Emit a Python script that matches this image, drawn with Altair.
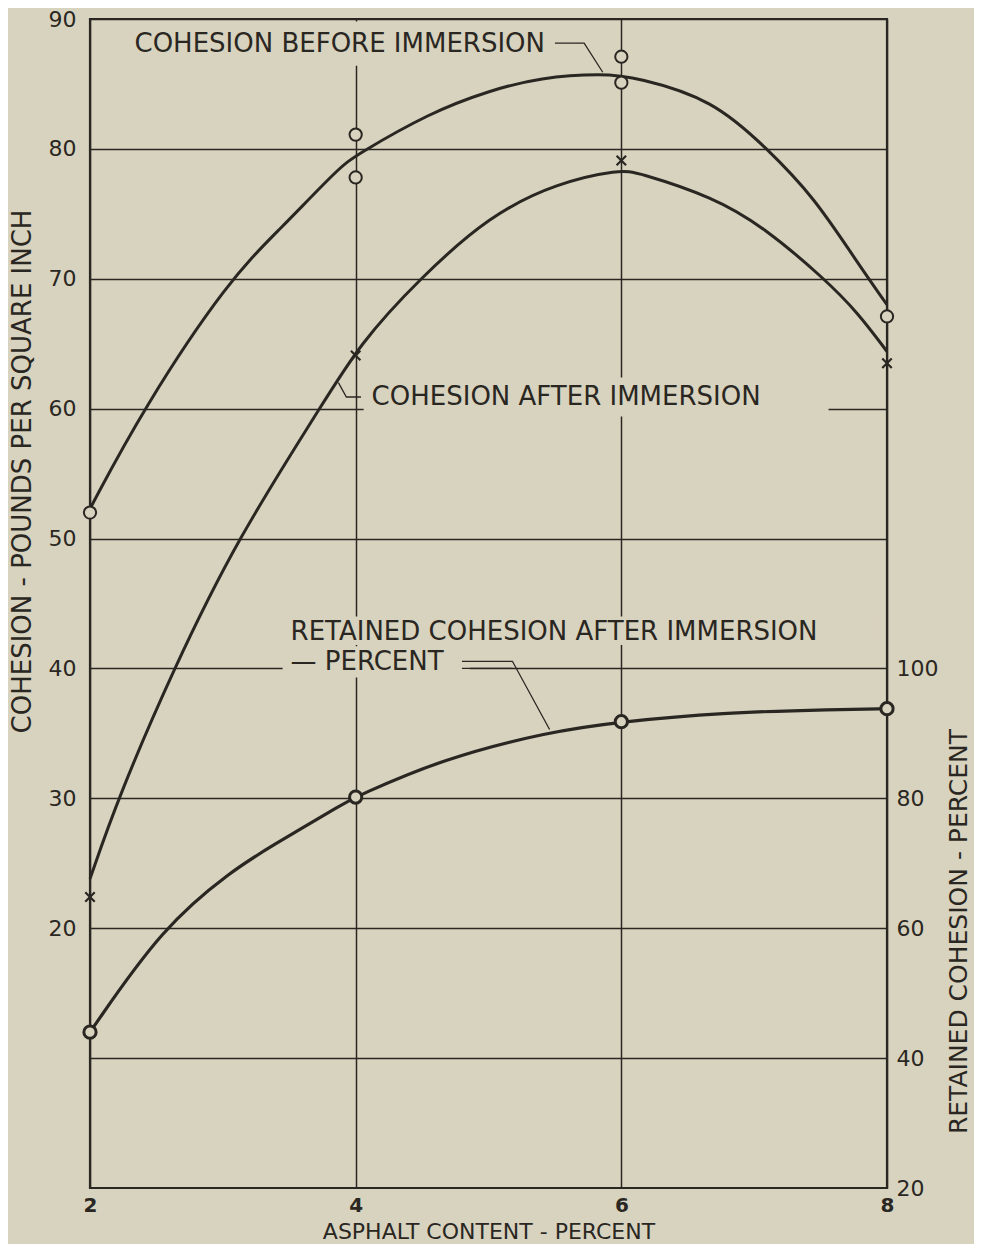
import altair as alt
import pandas as pd

BG = "#d8d3bf"
INK = "#2a2722"
FONT = "DejaVu Sans"

# ---- measured points ----
before_x = [2, 4, 4, 6, 6, 8]
before_y = [52.0, 81.1, 77.8, 87.1, 85.1, 67.1]
after_x = [2, 4, 6, 8]
after_y = [22.4, 64.1, 79.1, 63.5]
ret_x = [2, 4, 6, 8]
ret_y = [44.0, 80.2, 91.8, 93.8]

# ---- curves ----
bc_x = [2.0, 2.4, 3.05, 3.43, 3.88, 4.0, 4.56, 5.01, 5.39, 5.86, 6.12, 6.69, 7.1, 7.45, 7.78, 8.0]
bc_y = [52.3, 60.0, 70.0, 73.8, 78.6, 79.5, 82.8, 84.5, 85.5, 85.8, 85.5, 83.8, 80.0, 76.3, 71.2, 68.0]
ac_x = [2.0, 2.21, 2.63, 3.11, 3.73, 4.03, 4.48, 5.01, 5.52, 5.99, 6.12, 6.69, 7.07, 7.53, 7.78, 8.0]
ac_y = [23.8, 30.0, 40.0, 50.0, 60.0, 65.0, 70.0, 74.9, 77.4, 78.4, 78.2, 76.3, 74.0, 70.0, 67.4, 64.4]
rc_x = [2.0, 2.55, 3.08, 3.33, 3.94, 4.0, 4.64, 5.46, 6.0, 6.74, 7.63, 8.0]
rc_y = [44.0, 60.3, 69.0, 72.2, 79.6, 80.2, 86.0, 90.3, 91.8, 93.2, 93.7, 93.8]

# ---- axis ticks ----
x_ticks = [2, 4, 6, 8]
left_ticks = [10, 20, 30, 40, 50, 60, 70, 80, 90]
right_ticks = [20, 40, 60, 80, 100]

# ---- annotations (in left-axis units) ----
labels = ["COHESION BEFORE IMMERSION", "COHESION AFTER IMMERSION",
          "RETAINED COHESION AFTER IMMERSION", "— PERCENT"]
label_x = [3.88, 4.12, 3.51, 3.51]
label_y = [88.1, 60.9, 42.8, 40.5]
label_align = ["center", "left", "left", "left"]
# background patches that interrupt the grid behind the lettering
patch_x = [2.2, 4.06, 3.45, 3.45]
patch_x2 = [5.58, 7.56, 7.9, 4.86]
patch_y = [86.4, 59.4, 41.8, 39.3]
patch_y2 = [89.8, 62.4, 44.0, 41.7]
# leader lines
lead_id = [0, 0, 0, 1, 1, 1, 2, 2, 2, 3, 3]
lead_x = [5.5, 5.72, 5.86, 3.87, 3.93, 4.04, 4.8, 5.18, 5.46, 4.8, 5.18]
lead_y = [88.15, 88.15, 85.9, 62.0, 60.9, 60.9, 40.55, 40.55, 35.3, 40.0, 40.0]

xs = alt.Scale(domain=[2, 8], nice=False, zero=False)
ys = alt.Scale(domain=[0, 90], nice=False, zero=False)
rs = alt.Scale(domain=[20, 200], nice=False, zero=False)

xax = alt.Axis(values=x_ticks, grid=True, gridColor=INK, gridWidth=1.5, gridOpacity=1,
               ticks=False, domain=False, labelFont=FONT, labelFontSize=20, labelColor=INK,
               labelFontWeight="bold", format="d", labelFlush=False,
               labelPadding=7, title="ASPHALT CONTENT - PERCENT", titleFont=FONT,
               titleFontSize=22, titleFontWeight="normal", titleColor=INK, titleY=50,
               titleBaseline="alphabetic")
yax = alt.Axis(values=left_ticks, grid=True, gridColor=INK, gridWidth=1.5, gridOpacity=1,
               ticks=False, domain=False, labelFont=FONT, labelFontSize=22, labelColor=INK,
               labelPadding=14, labelExpr="datum.value == 10 ? '' : datum.label",
               title="COHESION - POUNDS PER SQUARE INCH", titleFont=FONT, titleFontSize=26,
               titleFontWeight="normal", titleColor=INK, titleX=-68, titleY=452,
               titleBaseline="middle", titleAngle=270)
rax = alt.Axis(values=right_ticks, grid=False, ticks=False, domain=False, orient="right",
               labelFont=FONT, labelFontSize=22, labelColor=INK, labelPadding=9,
               title="RETAINED COHESION - PERCENT", titleFont=FONT, titleFontSize=25,
               titleFontWeight="normal", titleColor=INK, titleX=71, titleY=912,
               titleBaseline="middle", titleAngle=270)

bc = pd.DataFrame({"x": bc_x, "y": bc_y})
ac = pd.DataFrame({"x": ac_x, "y": ac_y})
rc = pd.DataFrame({"x": rc_x, "r": rc_y})
bp = pd.DataFrame({"x": before_x, "y": before_y})
ap = pd.DataFrame({"x": after_x, "y": after_y})
rp = pd.DataFrame({"x": ret_x, "r": ret_y})
lab = pd.DataFrame({"t": labels, "x": label_x, "y": label_y, "a": label_align})
pat = pd.DataFrame({"x": patch_x, "x2": patch_x2, "y": patch_y, "y2": patch_y2})
lead = pd.DataFrame({"id": lead_id, "x": lead_x, "y": lead_y, "o": list(range(len(lead_x)))})

base_axis = alt.Chart(bc).mark_line(opacity=0).encode(
    x=alt.X("x:Q", scale=xs, axis=xax), y=alt.Y("y:Q", scale=ys, axis=yax))

patches = alt.Chart(pat).mark_rect(color=BG).encode(
    x=alt.X("x:Q", scale=xs), x2="x2:Q", y=alt.Y("y:Q", scale=ys), y2="y2:Q")

def curve(df):
    return alt.Chart(df).mark_line(color=INK, strokeWidth=3, interpolate="basis").encode(
        x=alt.X("x:Q", scale=xs), y=alt.Y("y:Q", scale=ys))

leaders = alt.Chart(lead).mark_line(color=INK, strokeWidth=1.3).encode(
    x=alt.X("x:Q", scale=xs), y=alt.Y("y:Q", scale=ys), detail="id:N", order="o:Q")

bpts = alt.Chart(bp).mark_point(shape="circle", size=150, filled=True, fill=BG,
                                stroke=INK, strokeWidth=2, opacity=1).encode(
    x=alt.X("x:Q", scale=xs), y=alt.Y("y:Q", scale=ys))
apts = alt.Chart(ap).mark_point(shape="M-1,-1L1,1M-1,1L1,-1", size=90, stroke=INK,
                                strokeWidth=2.2, opacity=1).encode(
    x=alt.X("x:Q", scale=xs), y=alt.Y("y:Q", scale=ys))

def text_layer(align):
    return alt.Chart(lab[lab["a"] == align]).mark_text(
        font=FONT, fontSize=26, color=INK, align=align, baseline="middle").encode(
        x=alt.X("x:Q", scale=xs), y=alt.Y("y:Q", scale=ys), text="t:N")

left = alt.layer(base_axis, patches, curve(bc), curve(ac), leaders, bpts, apts,
                 text_layer("center"), text_layer("left"))

rcurve = alt.Chart(rc).mark_line(color=INK, strokeWidth=3.2, interpolate="basis").encode(
    x=alt.X("x:Q", scale=xs), y=alt.Y("r:Q", scale=rs, axis=rax))
rpts = alt.Chart(rp).mark_point(shape="circle", size=150, filled=True, fill=BG,
                                stroke=INK, strokeWidth=3, opacity=1).encode(
    x=alt.X("x:Q", scale=xs), y=alt.Y("r:Q", scale=rs, axis=rax))
right = alt.layer(rcurve, rpts)

chart = alt.layer(left, right).resolve_scale(y="independent").properties(
    width=797, height=1169, background=BG,
    padding={"left": 82, "top": 11, "right": 87, "bottom": 56},
    autosize=alt.AutoSizeParams(type="none"),
).configure_view(stroke=INK, strokeWidth=2.2, fill=BG)

chart.save("out.html", embed_options={"renderer": "svg", "actions": False})
